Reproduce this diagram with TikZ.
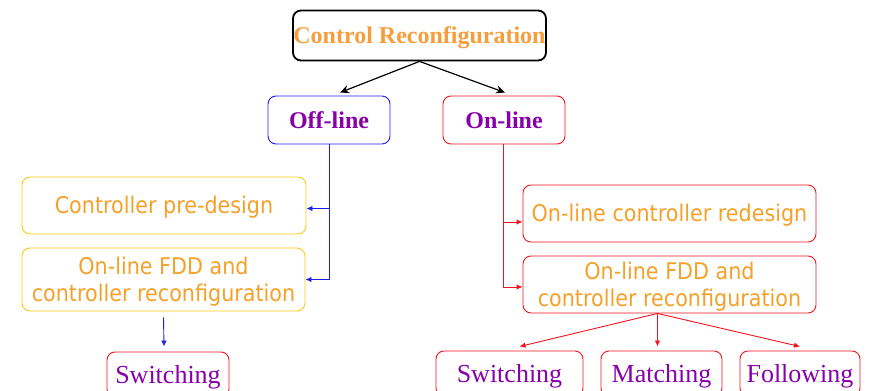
\documentclass[tikz,border=0pt]{standalone}
\usepackage{fontspec}
\setmainfont{Liberation Serif}
\newfontfamily\stagefont{DejaVu Sans}[FakeStretch=0.9]
\usetikzlibrary{arrows.meta}
\definecolor{headorange}{RGB}{247,158,60}
\definecolor{textorange}{RGB}{245,160,40}
\definecolor{boxgold}{RGB}{255,200,20}
\definecolor{lblpurple}{RGB}{135,0,170}
\definecolor{lineblue}{RGB}{30,30,235}
\definecolor{linered}{RGB}{245,20,30}
\tikzset{
  box/.style={draw, rounded corners=8pt, line width=0.9pt, inner sep=0pt, text depth=0pt},
  headbox/.style={box, line width=1.8pt, draw=black, text=headorange, text height=16pt,
    font=\fontsize{24}{26}\selectfont\bfseries},
  modebox/.style={box, text=lblpurple, text height=16pt,
    font=\fontsize{24}{26}\selectfont\bfseries},
  stagebox/.style={box, text=textorange, align=center, text height=16.8pt,
    font=\stagefont\fontsize{23}{27}\selectfont},
  twolinebox/.style={stagebox, text height=43.8pt},
  leafbox/.style={box, draw=linered, text=lblpurple, text height=17.2pt,
    minimum height=45pt, font=\fontsize{26}{28}\selectfont},
  bigtip/.style={-{Stealth[length=9pt,width=8pt]}},
  smalltip/.style={-{Latex[length=6pt,width=5.5pt]}},
}
\begin{document}
\begin{tikzpicture}[x=1pt, y=-1pt]
  \useasboundingbox (0,0) rectangle (871,391);
  \clip (0,0) rectangle (871,391);

  % root
  \node[headbox, minimum width=253pt, minimum height=50pt] (root) at (419.5,35.5) {Control Reconfiguration};

  % the two modes
  \node[modebox, draw=lineblue, minimum width=122pt, minimum height=48pt] (off) at (329,120) {Off-line};
  \node[modebox, draw=linered, minimum width=122pt, minimum height=48pt] (on) at (504,120) {On-line};

  % off-line branch
  \node[stagebox, draw=boxgold, minimum width=284pt, minimum height=57pt] (pre) at (164,205.5) {Controller pre-design};
  \node[twolinebox, draw=boxgold, minimum width=283pt, minimum height=63pt] (fddL) at (163.5,279.5) {On-line FDD and\\controller reconfiguration};
  \node[leafbox, minimum width=122pt] (swL) at (168,374.5) {Switching};

  % on-line branch
  \node[stagebox, draw=linered, minimum width=293pt, minimum height=57pt] (redesign) at (669.5,213.5) {On-line controller redesign};
  \node[twolinebox, draw=linered, minimum width=293pt, minimum height=57pt] (fddR) at (669.5,284.5) {On-line FDD and\\controller reconfiguration};
  \node[leafbox, minimum width=147pt] (swR) at (509.5,373.5) {Switching};
  \node[leafbox, minimum width=121pt] (match) at (661.5,373.5) {Matching};
  \node[leafbox, minimum width=120pt] (follow) at (800,373.5) {Following};

  % connectors from the root
  \draw[bigtip, line width=1.2pt] (root.south) -- ([xshift=11pt,yshift=3pt]off.north);
  \draw[bigtip, line width=1.2pt] (root.south) -- ([xshift=1pt,yshift=3pt]on.north);

  % off-line connectors
  \begin{scope}[line width=0.9pt, smalltip]
    \draw[color=lineblue] (off.south) |- ([yshift=-3pt]pre.east);
    \draw[color=lineblue] (off.south) |- (fddL.east);
    \draw[color=lineblue] ([yshift=-6pt]fddL.south) -- ([yshift=5pt,xshift=-4pt]swL.north);
  \end{scope}

  % on-line connectors
  \begin{scope}[line width=0.9pt, smalltip]
    \draw[color=linered] ([xshift=-1pt]on.south) |- ([yshift=-8.5pt]redesign.west);
    \draw[color=linered] ([xshift=-1pt]on.south) |- ([yshift=-2.5pt]fddR.west);
    \draw[color=linered] ([xshift=-12pt]fddR.south) -- ([xshift=10pt,yshift=4pt]swR.north);
    \draw[color=linered] ([xshift=-12pt]fddR.south) -- ([xshift=-4pt,yshift=4pt]match.north);
    \draw[color=linered] ([xshift=-12pt]fddR.south) -- ([yshift=4pt]follow.north);
  \end{scope}
\end{tikzpicture}
\end{document}
